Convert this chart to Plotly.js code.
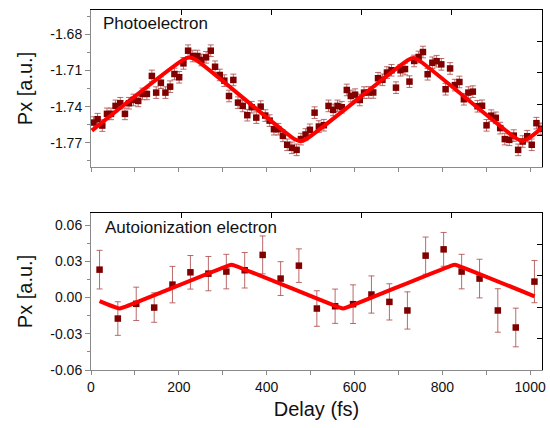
<!DOCTYPE html>
<html><head><meta charset="utf-8">
<script src="https://cdn.plot.ly/plotly-3.0.1.min.js"></script>
<style>html,body{margin:0;padding:0;background:#fff}#chart{width:550px;height:428px}</style>
</head><body><div id="chart"></div>
<script>
// ---- data ----
const photoDelay = [5.9,15.0,25.7,36.4,45.5,55.9,66.6,77.3,86.4,96.8,
  107.5,117.3,127.3,138.6,148.4,159.1,169.5,180.2,190.0,200.7,
  210.5,221.1,231.8,242.3,251.4,262.0,272.7,282.5,293.2,303.6,
  314.3,324.1,334.8,345.5,355.9,365.9,376.4,386.4,396.8,406.8,
  416.6,426.4,437.0,446.8,457.5,468.2,478.0,488.6,498.4,509.1,
  518.9,530.2,540.9,551.4,561.4,571.1,582.5,591.6,601.4,612.0,
  621.8,632.5,642.7,653.6,663.6,673.9,684.3,694.5,704.8,715.0,
  725.2,735.9,746.1,755.9,766.6,777.3,787.0,797.7,807.5,817.7,
  828.6,838.9,849.1,859.3,869.5,880.2,890.5,900.7,911.4,921.8,
  931.8,942.3,952.5,962.7,972.7,983.0,993.4,1003.6,1014.3,1024.5];
const photoPx = [-1.7532,-1.7504,-1.7557,-1.7460,-1.7460,-1.7394,-1.7372,-1.7460,-1.7372,-1.7345,
  -1.7353,-1.7295,-1.7295,-1.7146,-1.7284,-1.7202,-1.7284,-1.7235,-1.7130,-1.7157,
  -1.7042,-1.6937,-1.6981,-1.6981,-1.7014,-1.6992,-1.6937,-1.7070,-1.7138,-1.7185,
  -1.7312,-1.7179,-1.7367,-1.7394,-1.7471,-1.7405,-1.7491,-1.7400,-1.7474,-1.7516,
  -1.7587,-1.7587,-1.7642,-1.7716,-1.7741,-1.7758,-1.7669,-1.7631,-1.7592,-1.7450,
  -1.7565,-1.7554,-1.7394,-1.7427,-1.7394,-1.7405,-1.7262,-1.7312,-1.7301,-1.7345,
  -1.7284,-1.7283,-1.7283,-1.7165,-1.7178,-1.7118,-1.7099,-1.7243,-1.7099,-1.7089,
  -1.7193,-1.7022,-1.6989,-1.6948,-1.7132,-1.7037,-1.7024,-1.7050,-1.7256,-1.7084,
  -1.7222,-1.7196,-1.7339,-1.7284,-1.7276,-1.7397,-1.7393,-1.7555,-1.7475,-1.7493,
  -1.7578,-1.7669,-1.7675,-1.7640,-1.7758,-1.7689,-1.7645,-1.7716,-1.7537,-1.7584];
const photoErr = [0.0048,0.0048,0.0048,0.0048,0.0048,0.0048,0.0048,0.0048,0.0048,0.0048,
  0.0048,0.0048,0.0048,0.0048,0.0048,0.0048,0.0048,0.0048,0.0048,0.0048,
  0.0048,0.0048,0.0048,0.0048,0.0048,0.0048,0.0048,0.0048,0.0048,0.0048,
  0.0048,0.0048,0.0048,0.0048,0.0048,0.0048,0.0048,0.0048,0.0048,0.0048,
  0.0048,0.0048,0.0048,0.0048,0.0048,0.0048,0.0048,0.0048,0.0048,0.0048,
  0.0048,0.0048,0.0048,0.0048,0.0048,0.0048,0.0048,0.0048,0.0048,0.0048,
  0.0048,0.0048,0.0048,0.0048,0.0048,0.0048,0.0048,0.0048,0.0048,0.0048,
  0.0048,0.0048,0.0048,0.0048,0.0048,0.0048,0.0048,0.0048,0.0048,0.0048,
  0.0048,0.0048,0.0048,0.0048,0.0048,0.0048,0.0048,0.0048,0.0048,0.0048,
  0.0048,0.0048,0.0048,0.0048,0.0048,0.0048,0.0048,0.0048,0.0048,0.0048];
const photoFitDelay = [2,213,225,237,464,476,488,722,734,746,970,982,994,1027];
const photoFitPx = [-1.7599,-1.7006,-1.6993,-1.7008,-1.7671,-1.7684,-1.7673,-1.7013,-1.6997,-1.7015,-1.7667,-1.7684,-1.7669,-1.7576];

const autoDelay = [19.5,61.1,103.0,143.9,185.5,226.4,267.3,308.2,350.0,390.9,431.8,473.4,514.3,
  555.9,596.8,638.6,679.5,720.5,762.0,803.0,844.0,884.8,926.4,967.3,1009.8];
const autoPx = [0.0231,-0.0174,-0.0052,-0.0083,0.0107,0.0209,0.0198,0.0215,0.0226,0.0353,0.0157,0.0264,-0.0091,
  -0.0072,-0.0055,0.0025,-0.0036,-0.0107,0.0347,0.0399,0.0215,0.0157,-0.0107,-0.0248,0.0132];
const autoErr = [0.016,0.0139,0.0138,0.0122,0.0151,0.0139,0.0142,0.0143,0.0147,0.0157,0.014,0.0139,0.0147,
  0.0142,0.016,0.0154,0.015,0.0154,0.0154,0.014,0.0143,0.016,0.018,0.016,0.0175];
const autoFitDelay = [19.5,55,65,75,310,320,330,564,574,584,818,828,838,1010];
const autoFitPx = [-0.0029,-0.0080,-0.0091,-0.0080,0.0261,0.0271,0.0261,-0.0080,-0.0091,-0.0080,0.0261,0.0271,0.0261,0.0010];

const panelLabels = ['Photoelectron','Autoionization electron'];
const xTitle = 'Delay (fs)';
const yTitle = 'Px [a.u.]';
const photoTicks = [-1.77,-1.74,-1.71,-1.68];
const autoTicks = [-0.06,-0.03,0.00,0.03,0.06];
const xTicks = [0,200,400,600,800,1000];

// ---- styles ----
const FONT = 'Liberation Sans, Arial, sans-serif';
const GRAY = '#8a8a8a';
const markerStyle = {symbol:'square', size:6.5, color:'#800000', line:{width:0}};
const errStyle = {type:'data', visible:true, color:'rgba(175,80,80,0.85)', thickness:1, width:3};
const fitStyle = {color:'#ff0000', width:4, shape:'spline', smoothing:0.8};

const traces = [
  {x:photoDelay, y:photoPx, xaxis:'x2', yaxis:'y2', mode:'markers', type:'scatter',
   marker:markerStyle, error_y:Object.assign({array:photoErr}, errStyle), hoverinfo:'skip'},
  {x:photoFitDelay, y:photoFitPx, xaxis:'x2', yaxis:'y2', mode:'lines', type:'scatter', line:fitStyle, hoverinfo:'skip'},
  {x:autoDelay, y:autoPx, xaxis:'x', yaxis:'y', mode:'markers', type:'scatter',
   marker:markerStyle, error_y:Object.assign({array:autoErr}, errStyle), hoverinfo:'skip'},
  {x:autoFitDelay, y:autoFitPx, xaxis:'x', yaxis:'y', mode:'lines', type:'scatter', line:fitStyle, hoverinfo:'skip'},
  {x:[], y:[], xaxis:'x3', yaxis:'y3', type:'scatter', mode:'markers'},
  {x:[], y:[], xaxis:'x4', yaxis:'y4', type:'scatter', mode:'markers'}
];

const XR = [0, 1027];
function xAxis(anchor, labels, title) {
  return {
    domain:[0,1], anchor:anchor, range:XR, showgrid:false, zeroline:false,
    tickmode:'array', tickvals:xTicks, ticktext:xTicks.map(String), showticklabels:labels,
    ticks:'outside', ticklen:4, tickcolor:GRAY, tickwidth:1,
    minor:{dtick:100, tick0:0, ticks:'outside', ticklen:4, tickcolor:GRAY, tickwidth:1},
    showline:true, linecolor:GRAY, linewidth:1,
    tickfont:{family:FONT, size:14, color:'#111'},
    title: title ? {text:title, font:{family:FONT, size:20, color:'#111'}, standoff:8} : {text:''}
  };
}
function yAxis(anchor, domain, range, ticks, dec, minorStart) {
  return {
    domain:domain, anchor:anchor, range:range, showgrid:false, zeroline:false,
    tickmode:'array', tickvals:ticks, ticktext:ticks.map(v => v.toFixed(dec)),
    ticks:'outside', ticklen:5, tickcolor:GRAY, tickwidth:1,
    minor:{dtick:0.015, tick0:minorStart, ticks:'outside', ticklen:3, tickcolor:GRAY, tickwidth:1},
    showline:true, linecolor:GRAY, linewidth:1,
    tickfont:{family:FONT, size:14, color:'#111'},
    title:{text:yTitle, font:{family:FONT, size:20, color:'#111'}, standoff:12}
  };
}
function frameX(over, anchor) {
  return {overlaying:over, anchor:anchor, side:'top', range:[0,5], tickmode:'array', tickvals:[1,2,3,4],
    ticks:'inside', ticklen:5, tickcolor:'#000', showticklabels:false, showgrid:false, zeroline:false,
    showline:true, linecolor:'#000', linewidth:1.2, fixedrange:true};
}
function frameY(over, anchor) {
  return {overlaying:over, anchor:anchor, side:'right', range:[0,5], tickmode:'array', tickvals:[1,2,3,4],
    ticks:'inside', ticklen:5, tickcolor:'#000', showticklabels:false, showgrid:false, zeroline:false,
    showline:true, linecolor:'#000', linewidth:1.2, fixedrange:true};
}

const layout = {
  width:550, height:428, paper_bgcolor:'#fff', plot_bgcolor:'#fff', showlegend:false,
  margin:{l:91, r:8, t:10, b:58},
  font:{family:FONT, color:'#111'},
  xaxis: xAxis('y', true, xTitle),
  xaxis2: xAxis('y2', false, null),
  yaxis: yAxis('x', [0,0.4361], [-0.06,0.07], autoTicks, 2, -0.06),
  yaxis2: yAxis('x2', [0.5639,1], [-1.79,-1.66], photoTicks, 2, -1.785),
  xaxis3: frameX('x2','y3'), yaxis3: frameY('y2','x3'),
  xaxis4: frameX('x','y4'), yaxis4: frameY('y','x4'),
  annotations:[
    {text:panelLabels[0], xref:'x2 domain', yref:'y2 domain', x:0.023, y:0.915, xanchor:'left', yanchor:'middle',
     showarrow:false, font:{family:FONT, size:17, color:'#111'}},
    {text:panelLabels[1], xref:'x domain', yref:'y domain', x:0.026, y:0.905, xanchor:'left', yanchor:'middle',
     showarrow:false, font:{family:FONT, size:17, color:'#111'}}
  ]
};

Plotly.newPlot('chart', traces, layout, {staticPlot:true, displayModeBar:false});
</script></body></html>
